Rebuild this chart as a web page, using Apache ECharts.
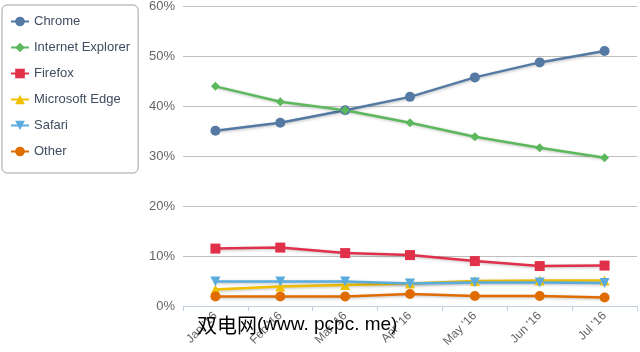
<!DOCTYPE html>
<html>
<head>
<meta charset="utf-8">
<script src="https://cdn.jsdelivr.net/npm/echarts@6/dist/echarts.min.js"></script>
<style>html,body{margin:0;padding:0;background:#fff}#c{width:640px;height:352px}</style>
</head>
<body>
<div id="c"></div>
<script>
const categories = ["Jan '16", "Feb '16", "Mar '16", "Apr '16", "May '16", "Jun '16", "Jul '16"];
const chrome = [35.1, 36.7, 39.2, 41.9, 45.8, 48.8, 51.1];
const ie = [44.0, 40.9, 39.2, 36.7, 33.9, 31.7, 29.7];
const firefox = [11.5, 11.7, 10.6, 10.2, 9.0, 8.0, 8.1];
const edge = [3.3, 3.9, 4.2, 4.5, 5.0, 5.1, 5.1];
const safari = [4.9, 4.9, 4.9, 4.5, 4.7, 4.7, 4.6];
const other = [1.9, 1.9, 1.9, 2.4, 2.0, 2.0, 1.7];
const yTicks = [0, 10, 20, 30, 40, 50, 60];
const watermarkCJK = "双电网";
const watermarkLatin = "(www. pcpc. me)";

function mk(name, data, color, symbol, size, rotate) {
  return {
    name: name, type: 'line', data: data, symbol: symbol, symbolSize: size,
    symbolRotate: rotate || 0,
    itemStyle: { color: color },
    lineStyle: { width: 2.5, color: color, shadowColor: 'rgba(0,0,0,0.25)', shadowBlur: 3, shadowOffsetX: 1, shadowOffsetY: 1 },
    animation: false
  };
}
const chart = echarts.init(document.getElementById('c'));
chart.setOption({
  animation: false,
  textStyle: { fontFamily: 'Liberation Sans, Arial, sans-serif' },
  grid: { left: 183, right: 3, top: 5, bottom: 46 },
  legend: {
    orient: 'vertical', left: 2, top: 5,
    padding: [9, 8, 14, 8],
    itemWidth: 18, itemHeight: 12, itemGap: 11,
    borderColor: '#a0a0a0', borderWidth: 1, borderRadius: 5,
    textStyle: { fontSize: 13, color: '#3e4d60', lineHeight: 15 }
  },
  xAxis: {
    type: 'category', data: categories, boundaryGap: true,
    axisLine: { lineStyle: { color: '#c0d0e0' } },
    axisTick: { show: true, length: 5, lineStyle: { color: '#c0d0e0' } },
    axisLabel: { rotate: 45, fontSize: 12, color: '#666', margin: 8 }
  },
  yAxis: {
    type: 'value', min: yTicks[0], max: yTicks[yTicks.length - 1], interval: 10,
    axisLine: { show: false }, axisTick: { show: false },
    axisLabel: { formatter: '{value}%', fontSize: 13, color: '#666', margin: 8 },
    splitLine: { lineStyle: { color: '#c0c0c0' } }
  },
  graphic: [{
    type: 'text', left: 197, top: 315, z: 100,
    style: {
      text: '{a|' + watermarkCJK + '}{b|' + watermarkLatin + '}',
      rich: {
        a: { fontSize: 20, fill: '#000', fontFamily: 'Noto Sans CJK SC' },
        b: { fontSize: 19, fill: '#000', fontFamily: 'Liberation Sans' }
      }
    }
  }],
  series: [
    mk('Chrome', chrome, '#5479a3', 'circle', 10),
    mk('Internet Explorer', ie, '#5cb85c', 'diamond', 9),
    mk('Firefox', firefox, '#e0304a', 'rect', 10),
    mk('Microsoft Edge', edge, '#f0c000', 'triangle', 10),
    mk('Safari', safari, '#5aacde', 'triangle', 10, 180),
    mk('Other', other, '#e06c00', 'circle', 10)
  ]
});
</script>
</body>
</html>
